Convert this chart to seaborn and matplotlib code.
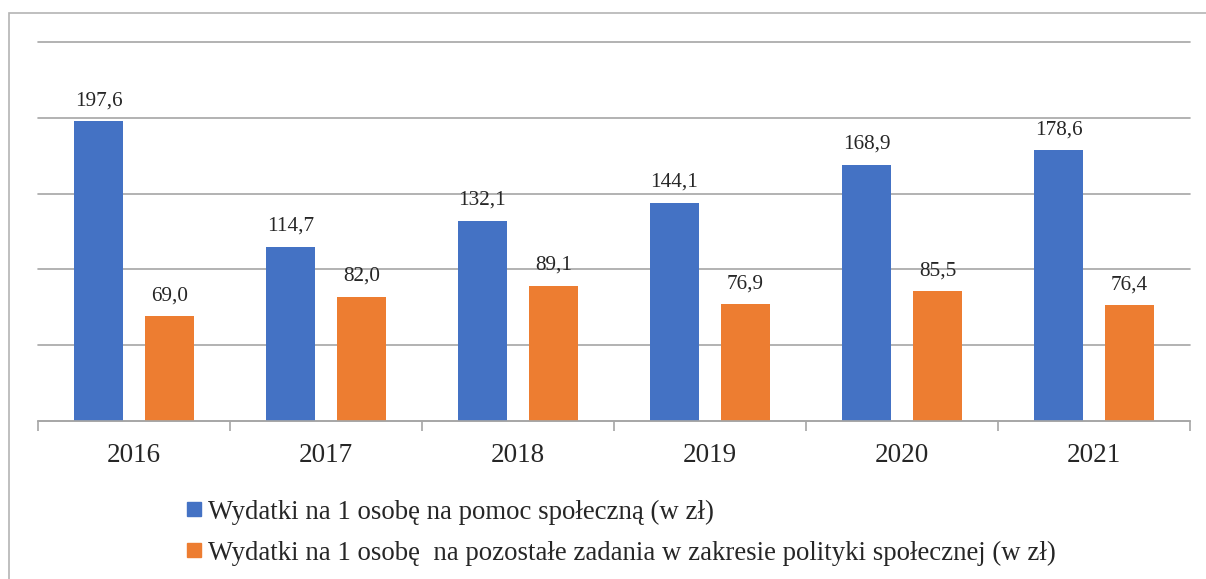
import matplotlib
matplotlib.use("Agg")
import matplotlib.pyplot as plt
from matplotlib.patches import Rectangle
from matplotlib.lines import Line2D
import seaborn as sns
import pandas as pd

years = ["2016", "2017", "2018", "2019", "2020", "2021"]
pomoc = [197.6, 114.7, 132.1, 144.1, 168.9, 178.6]
pozostale = [69.0, 82.0, 89.1, 76.9, 85.5, 76.4]
series_names = [
    "Wydatki na 1 osobę na pomoc społeczną (w zł)",
    "Wydatki na 1 osobę  na pozostałe zadania w zakresie polityki społecznej (w zł)",
]
colors = ["#4472C4", "#ED7D31"]

df = pd.DataFrame({
    "rok": years * 2,
    "wartosc": pomoc + pozostale,
    "seria": [series_names[0]] * len(years) + [series_names[1]] * len(years),
})

sns.set_style("white")
plt.rcParams["font.family"] = ["Liberation Serif", "DejaVu Serif"]

fig = plt.figure(figsize=(12.06, 5.79), dpi=100)
ax = fig.add_axes([38 / 1206, 1 - 421 / 579, (1190 - 38) / 1206, (421 - 42) / 579])

sns.barplot(data=df, x="rok", y="wartosc", hue="seria", palette=colors,
            width=0.74, gap=0.32, saturation=1, ax=ax, legend=False,
            errorbar=None, linewidth=0)

ax.set_ylim(0, 250)
ax.set_xlim(-0.5, len(years) - 0.5)
ax.set_yticks([0, 50, 100, 150, 200, 250])
ax.set_yticklabels([])
ax.tick_params(axis="y", length=0)
ax.yaxis.grid(True, color="#a6a6a6", linewidth=1.2)
for gl in ax.get_ygridlines():
    gl.set_clip_on(False)
ax.set_axisbelow(True)
for s in ["top", "right", "left"]:
    ax.spines[s].set_visible(False)
ax.spines["bottom"].set_color("#a6a6a6")
ax.spines["bottom"].set_linewidth(1.2)

# category boundary ticks
ax.set_xticks([i - 0.5 for i in range(len(years) + 1)], minor=True)
ax.tick_params(axis="x", which="minor", bottom=True, length=7, width=1.2,
               color="#a6a6a6", direction="out")
ax.tick_params(axis="x", which="major", length=0, labelsize=19.5, pad=16)
ax.set_xlabel("")
ax.set_ylabel("")

for cont in ax.containers:
    labels = [f"{b.get_height():.1f}".replace(".", ",") for b in cont]
    ax.bar_label(cont, labels=labels, padding=8, fontsize=15.3)

handles = [Line2D([0], [0], marker="s", linestyle="none", markersize=10,
                  markerfacecolor=c, markeredgecolor=c) for c in colors]
fig.legend(handles, series_names, loc="upper left",
           bbox_to_anchor=(169 / 1206, 1 - 486 / 579), frameon=False,
           fontsize=19.3, handletextpad=0.05, labelspacing=0.6,
           borderpad=0, handlelength=0.9)

fig.add_artist(Rectangle((9 / 1206, -0.1), 1.2, 1 - 13 / 579 + 0.1,
                         transform=fig.transFigure, fill=False,
                         edgecolor="#b4b4b4", linewidth=1.2))

fig.savefig("out.png", dpi=100)
